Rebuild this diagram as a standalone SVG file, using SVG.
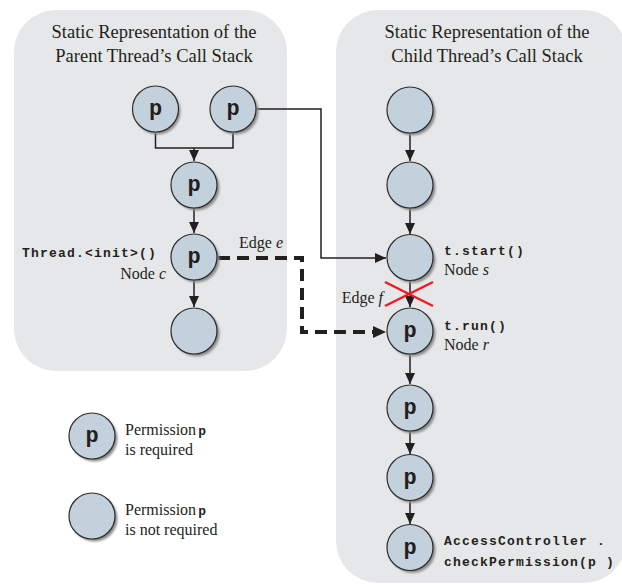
<svg xmlns="http://www.w3.org/2000/svg" width="622" height="587" viewBox="0 0 622 587">
<style>
.panel{fill:#e6e7e8;stroke:none}
.title{font-family:"Liberation Serif",serif;font-size:18.5px;fill:#231f20;text-anchor:middle}
.lbl{font-family:"Liberation Serif",serif;font-size:16px;fill:#231f20}
.it{font-style:italic}
.code{font-family:"Liberation Mono",monospace;font-size:13px;font-weight:bold;fill:#231f20;letter-spacing:1.2px}
.cm{font-family:"Liberation Mono",monospace;font-weight:bold;fill:#231f20}
.node{fill:#c3d1dc;stroke:#2b2b2b;stroke-width:1.2}
.shadow{fill:#8c8c8c;filter:url(#blur)}
.pl{font-family:"Liberation Mono",monospace;font-size:22px;font-weight:bold;fill:#231f20;text-anchor:middle}
.edge{fill:none;stroke:#231f20;stroke-width:1.5}
.dash{fill:none;stroke:#231f20;stroke-width:4;stroke-dasharray:12 7}
.cross{stroke:#ed1c24;stroke-width:2.5}
</style>
<defs>
<filter id="blur" x="-20%" y="-20%" width="140%" height="140%"><feGaussianBlur stdDeviation="1"/></filter>
<marker id="arr" markerUnits="userSpaceOnUse" markerWidth="12" markerHeight="10" refX="11" refY="5" orient="auto"><path d="M0,0 L11,5 L0,10 Z" fill="#231f20"/></marker>
</defs>

<rect class="panel" x="14" y="10" width="273" height="361" rx="42"/>
<rect class="panel" x="336" y="10" width="290" height="573" rx="42"/>

<text class="title" x="154" y="38">Static Representation of the</text>
<text class="title" x="154" y="62">Parent Thread’s Call Stack</text>
<text class="title" x="487" y="38">Static Representation of the</text>
<text class="title" x="487" y="62">Child Thread’s Call Stack</text>

<g id="connectors">
<path class="edge" d="M155.5,132 V148 H233 V132"/>
<path class="edge" d="M194,148 V161" marker-end="url(#arr)"/>
<path class="edge" d="M194,208 V233" marker-end="url(#arr)"/>
<path class="edge" d="M194,280 V307" marker-end="url(#arr)"/>
<path class="edge" d="M256,109 H321 V258 H386" marker-end="url(#arr)"/>
<path class="edge" d="M410,133 V161" marker-end="url(#arr)"/>
<path class="edge" d="M410,208 V234" marker-end="url(#arr)"/>
<path class="edge" d="M410,281 V307" marker-end="url(#arr)"/>
<path class="edge" d="M410,355 V384" marker-end="url(#arr)"/>
<path class="edge" d="M410,431 V454" marker-end="url(#arr)"/>
<path class="edge" d="M410,501 V524" marker-end="url(#arr)"/>
<path class="dash" d="M218,258 H302 V332 H374"/>
<path d="M373,326 L386,332 L373,338 Z" fill="#231f20"/>
<line class="cross" x1="385" y1="282" x2="433" y2="306"/>
<line class="cross" x1="385" y1="306" x2="433" y2="282"/>
</g>

<g id="p1"><circle class="shadow" cx="157.5" cy="111.5" r="23"/><circle class="node" cx="155.5" cy="109" r="23"/><text class="pl" x="155.5" y="115">p</text></g>
<g id="p2"><circle class="shadow" cx="235.5" cy="111.5" r="23"/><circle class="node" cx="233" cy="109" r="23"/><text class="pl" x="233" y="115">p</text></g>
<g id="p3"><circle class="shadow" cx="196.5" cy="187.5" r="23"/><circle class="node" cx="194" cy="185" r="23"/><text class="pl" x="194" y="191">p</text></g>
<g id="nodeC"><circle class="shadow" cx="196.5" cy="259.5" r="23"/><circle class="node" cx="194" cy="257" r="23"/><text class="pl" x="194" y="263">p</text>
<text class="code" x="22" y="257">Thread.&lt;init&gt;()</text>
<text class="lbl" x="166" y="279" text-anchor="end">Node <tspan class="it">c</tspan></text></g>
<g id="p5"><circle class="shadow" cx="196.5" cy="333.5" r="23"/><circle class="node" cx="194" cy="331" r="23"/></g>

<g id="edgeE"><text class="lbl" x="239" y="248">Edge <tspan class="it">e</tspan></text></g>
<g id="edgeF"><text class="lbl" x="383" y="303" text-anchor="end">Edge <tspan class="it">f</tspan></text></g>

<g id="c1"><circle class="shadow" cx="412.5" cy="112.5" r="23"/><circle class="node" cx="410" cy="110" r="23"/></g>
<g id="c2"><circle class="shadow" cx="412.5" cy="187.5" r="23"/><circle class="node" cx="410" cy="185" r="23"/></g>
<g id="nodeS"><circle class="shadow" cx="412.5" cy="260" r="23"/><circle class="node" cx="410" cy="257.5" r="23"/>
<text class="code" x="444" y="255">t.start()</text>
<text class="lbl" x="444" y="275">Node <tspan class="it">s</tspan></text></g>
<g id="nodeR"><circle class="shadow" cx="412.5" cy="333.5" r="23"/><circle class="node" cx="410" cy="331" r="23"/><text class="pl" x="410" y="337">p</text>
<text class="code" x="444" y="330">t.run()</text>
<text class="lbl" x="444" y="350">Node <tspan class="it">r</tspan></text></g>
<g id="c5"><circle class="shadow" cx="412.5" cy="410.5" r="23"/><circle class="node" cx="410" cy="408" r="23"/><text class="pl" x="410" y="414">p</text></g>
<g id="c6"><circle class="shadow" cx="412.5" cy="480" r="23"/><circle class="node" cx="410" cy="477.5" r="23"/><text class="pl" x="410" y="483.5">p</text></g>
<g id="c7"><circle class="shadow" cx="412.5" cy="550" r="23"/><circle class="node" cx="410" cy="547.5" r="23"/><text class="pl" x="410" y="553.5">p</text>
<text class="code" x="444" y="545">AccessController .</text>
<text class="code" x="444" y="566">checkPermission(p )</text></g>

<g id="legend1"><circle class="shadow" cx="94.5" cy="438.5" r="23"/><circle class="node" cx="92" cy="436" r="23"/><text class="pl" x="92" y="442">p</text>
<text class="lbl" x="125" y="435">Permission<tspan class="cm" font-size="13px" dx="2">p</tspan></text>
<text class="lbl" x="125" y="455">is required</text></g>
<g id="legend2"><circle class="shadow" cx="94.5" cy="518.5" r="23"/><circle class="node" cx="92" cy="516" r="23"/>
<text class="lbl" x="125" y="515">Permission<tspan class="cm" font-size="13px" dx="2">p</tspan></text>
<text class="lbl" x="125" y="535">is not required</text></g>
</svg>
